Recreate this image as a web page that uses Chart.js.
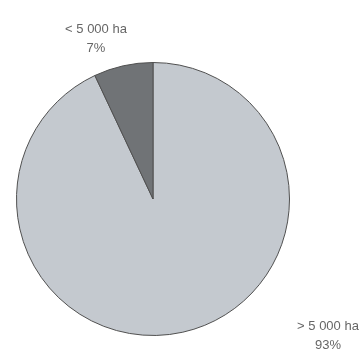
<!DOCTYPE html>
<html>
<head>
<meta charset="utf-8">
<script src="https://cdn.jsdelivr.net/npm/chart.js@4/dist/chart.umd.min.js"></script>
<style>
  html, body { margin: 0; padding: 0; background: #fff; }
  #wrap { width: 359px; height: 351px; position: relative; }
</style>
</head>
<body>
<div id="wrap"><canvas id="pieChart"></canvas></div>
<script>
// farm area shares
const categories = ['> 5 000 ha', '< 5 000 ha'];
const shares = [93, 7];
const sliceColors = ['#c4c9cf', '#707376'];

// labels sit outside the pie, nudged by hand to match the original
const labelOffsets = [
  { dx: 175, dy: 127 },   // > 5 000 ha, bottom right
  { dx: -57, dy: -170 }   // < 5 000 ha, top left
];

const outsideLabels = {
  id: 'outsideLabels',
  afterDatasetsDraw(chart) {
    const ctx = chart.ctx;
    const arcs = chart.getDatasetMeta(0).data;
    ctx.save();
    ctx.font = '13px "Liberation Sans", Arial, sans-serif';
    ctx.fillStyle = '#666';
    ctx.textAlign = 'center';
    ctx.textBaseline = 'middle';
    arcs.forEach((arc, i) => {
      const x = arc.x + labelOffsets[i].dx;
      const y = arc.y + labelOffsets[i].dy;
      ctx.fillText(categories[i], x, y);
      ctx.fillText(shares[i] + '%', x, y + 19);
    });
    ctx.restore();
  }
};

new Chart(document.getElementById('pieChart'), {
  type: 'pie',
  data: {
    labels: categories,
    datasets: [{
      data: shares,
      backgroundColor: sliceColors,
      borderColor: '#505050',
      borderWidth: 1
    }]
  },
  options: {
    responsive: true,
    maintainAspectRatio: false,
    animation: false,
    layout: { padding: { left: 16, right: 69, top: 62, bottom: 15 } },
    plugins: {
      legend: { display: false },
      tooltip: { enabled: false }
    }
  },
  plugins: [outsideLabels]
});
</script>
</body>
</html>
